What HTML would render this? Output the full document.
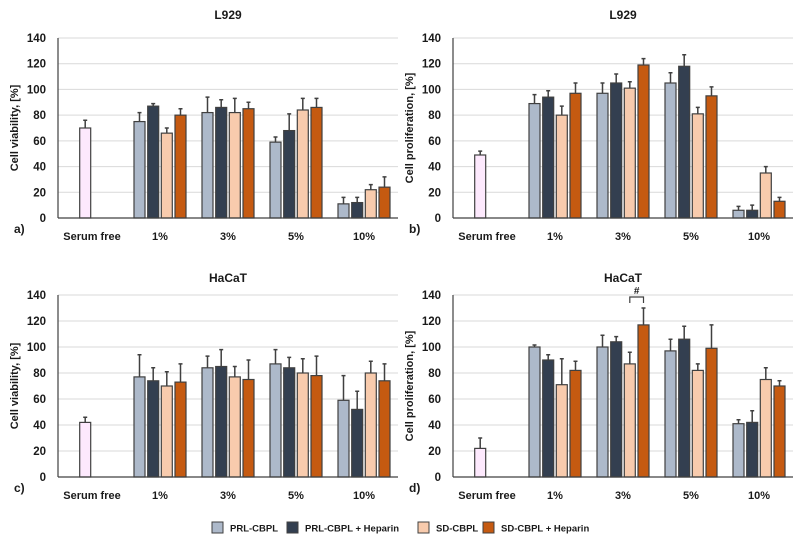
<!DOCTYPE html>
<html><head><meta charset="utf-8"><style>
html,body{margin:0;padding:0;background:#fff;}
svg{display:block;font-family:"Liberation Sans",Arial,sans-serif;font-weight:bold;}
</style></head><body>
<svg id="fig" width="800" height="542" viewBox="0 0 800 542" xmlns="http://www.w3.org/2000/svg"></svg>
<script>
const categories = ["1%", "3%", "5%", "10%"];
const seriesNames = ["PRL-CBPL", "PRL-CBPL + Heparin", "SD-CBPL", "SD-CBPL + Heparin"];
const yTicks = [0, 20, 40, 60, 80, 100, 120, 140];
// panel a
const aSerum = [70, 6];
const aVals = [[75, 87, 66, 80], [82, 86, 82, 85], [59, 68, 84, 86], [11, 12, 22, 24]];
const aErr = [[7, 2, 4, 5], [12, 6, 11, 5], [4, 13, 9, 7], [5, 4, 4, 8]];
// panel b
const bSerum = [49, 3];
const bVals = [[89, 94, 80, 97], [97, 105, 101, 119], [105, 118, 81, 95], [6, 6, 35, 13]];
const bErr = [[7, 5, 7, 8], [8, 7, 5, 5], [8, 9, 5, 7], [3, 4, 5, 3]];
// panel c
const cSerum = [42, 4];
const cVals = [[77, 74, 70, 73], [84, 85, 77, 75], [87, 84, 80, 78], [59, 52, 80, 74]];
const cErr = [[17, 10, 11, 14], [9, 13, 8, 15], [11, 8, 11, 15], [19, 14, 9, 13]];
// panel d
const dSerum = [22, 8];
const dVals = [[100, 90, 71, 82], [100, 104, 87, 117], [97, 106, 82, 99], [41, 42, 75, 70]];
const dErr = [[1.5, 4, 20, 7], [9, 4, 9, 13], [9, 10, 5, 18], [3, 9, 9, 4]];

const colors = ["#adb9ca", "#333f50", "#f8cbad", "#c55a11"];
const NS = "http://www.w3.org/2000/svg";
const svg = document.getElementById("fig");
function mk(tag, attrs, parent, text) {
  const e = document.createElementNS(NS, tag);
  for (const k in attrs) e.setAttribute(k, attrs[k]);
  if (text !== undefined) e.textContent = text;
  (parent || svg).appendChild(e);
  return e;
}

function panel(opt) {
  const g = mk("g", {});
  
  
  const x0 = opt.x0, x1 = opt.x0 + 340, yb = opt.yb, yt = opt.yt;
  const y = v => yb - (v / 140) * (yb - yt);
  const catW = (x1 - x0) / 5;
  const cx = i => x0 + catW * (i + 0.5);
  const offs = [-20.5, -6.8, 6.8, 20.5];
  const bw = 11;
  yTicks.forEach(t => {
    if (t > 0) {
      const gl = mk("line", {x1: x0, x2: x1, y1: y(t), y2: y(t), stroke: "#d9d9d9", "stroke-width": 1}, g);
      
      
    }
    const tl = mk("text", {x: x0 - 12, y: y(t) + 4, "text-anchor": "end", "font-size": 11.5, fill: "#1a1a1a"}, g, String(t));
    
    
  });
  const title = mk("text", {x: (x0 + x1) / 2, y: opt.titleY, "text-anchor": "middle", "font-size": 12, fill: "#1a1a1a"}, g, opt.title);
  
  
  const yl = mk("text", {x: 0, y: 0, "text-anchor": "middle", "font-size": 11, fill: "#1a1a1a", transform: `translate(${x0 - 40},${(yb + yt) / 2}) rotate(-90)`}, g, opt.ylabel);
  
  
  const pl = mk("text", {x: x0 - 44, y: yb + 15, "font-size": 12, fill: "#1a1a1a"}, g, opt.letter);
  
  
  const xl = ["Serum free"].concat(categories);
  xl.forEach((c, i) => {
    const t = mk("text", {x: cx(i), y: yb + 22, "text-anchor": "middle", "font-size": 11, fill: "#1a1a1a"}, g, c);
    
    
  });
  function bar(xc, v, e, fill) {
    const eb = mk("path", {d: `M${xc},${y(v)}V${y(v + e)}M${xc - 2},${y(v + e)}H${xc + 2}`, stroke: "#404040", "stroke-width": 1.5, fill: "none"}, g);
    
    
    const r = mk("rect", {x: xc - bw / 2, y: y(v), width: bw, height: yb - y(v), fill: fill, stroke: "#404040", "stroke-width": 1.2}, g);
    
    
  }
  bar(cx(0) + offs[1], opt.serum[0], opt.serum[1], "#fde9fd");
  opt.vals.forEach((grp, i) => grp.forEach((v, j) => bar(cx(i + 1) + offs[j], v, opt.err[i][j], colors[j])));
  mk("line", {x1: x0, x2: x0, y1: yt, y2: yb, stroke: "#404040", "stroke-width": 1.2}, g);
  mk("line", {x1: x0, x2: x1, y1: yb, y2: yb, stroke: "#404040", "stroke-width": 1.2}, g);
  return {y, cx, offs};
}

panel({name: "panel-a", x0: 58, yb: 218, yt: 38, titleY: 19, title: "L929", ylabel: "Cell viability, [%]", letter: "a)", serum: aSerum, vals: aVals, err: aErr});
panel({name: "panel-b", x0: 453, yb: 218, yt: 38, titleY: 19, title: "L929", ylabel: "Cell proliferation, [%]", letter: "b)", serum: bSerum, vals: bVals, err: bErr});
panel({name: "panel-c", x0: 58, yb: 477, yt: 295, titleY: 282, title: "HaCaT", ylabel: "Cell viability, [%]", letter: "c)", serum: cSerum, vals: cVals, err: cErr});
const pd = panel({name: "panel-d", x0: 453, yb: 477, yt: 295, titleY: 282, title: "HaCaT", ylabel: "Cell proliferation, [%]", letter: "d)", serum: dSerum, vals: dVals, err: dErr});

// significance bracket
const bx1 = pd.cx(2) + pd.offs[2], bx2 = pd.cx(2) + pd.offs[3];
const br = mk("path", {d: `M${bx1},303V297H${bx2}V303`, stroke: "#404040", "stroke-width": 1.2, fill: "none"});


const hs = mk("text", {x: (bx1 + bx2) / 2, y: 294, "text-anchor": "middle", "font-size": 10, fill: "#1a1a1a"}, svg, "#");



// legend
const legX = [212, 287, 418, 483];
seriesNames.forEach((n, i) => {
  const g = mk("g", {});
  
  
  mk("rect", {x: legX[i], y: 522, width: 11, height: 11, fill: colors[i], stroke: "#404040", "stroke-width": 1}, g);
  mk("text", {x: legX[i] + 18, y: 531.5, "font-size": 9.5, fill: "#1a1a1a"}, g, n);
});
</script>
</body></html>
